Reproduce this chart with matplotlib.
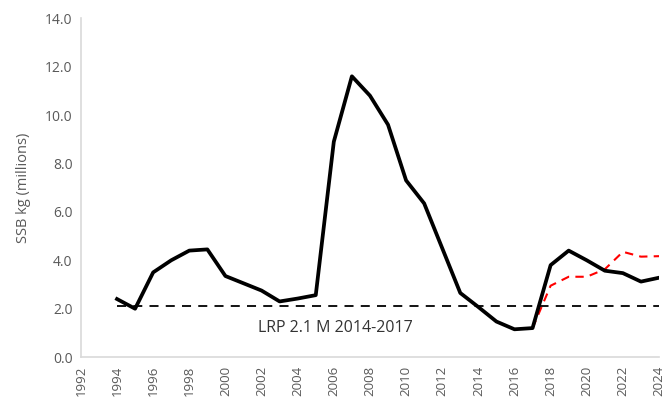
import matplotlib
matplotlib.use("Agg")
import matplotlib.pyplot as plt

# SSB estimates (millions of kg)
years = list(range(1994, 2025))
ssb = [2.4, 2.0, 3.5, 4.0, 4.4, 4.45, 3.35, 3.05, 2.75, 2.3, 2.42, 2.56,
       8.9, 11.6, 10.8, 9.6, 7.3, 6.35, 4.5, 2.65, 2.07, 1.47, 1.15, 1.2,
       3.8, 4.4, 4.0, 3.57, 3.47, 3.12, 3.28]

# alternative run from 2017 on
alt_years = list(range(2017, 2025))
alt_ssb = [1.2, 2.95, 3.32, 3.32, 3.63, 4.35, 4.15, 4.17]

lrp = 2.1
lrp_label = "LRP 2.1 M 2014-2017"
xticks = list(range(1992, 2025, 2))
yticks = [0, 2, 4, 6, 8, 10, 12, 14]

plt.rcParams['font.family'] = ['Open Sans', 'DejaVu Sans']

fig = plt.figure(figsize=(6.63, 4.04), dpi=100)
ax = fig.add_axes([0.122, 0.116, 0.872, 0.839])

ax.plot([years[0], years[-1]], [lrp, lrp], color='black', lw=1.3,
        dashes=(5, 4))
ax.plot(alt_years, alt_ssb, color='red', lw=1.5, dashes=(4, 3))
ax.plot(years, ssb, color='black', lw=2.7, solid_joinstyle='round')

ax.text(2006.1, 1.22, lrp_label, ha='center', va='center', fontsize=11.5,
        color='#333333')

ax.set_xlim(1992, 2024)
ax.set_ylim(0, 14)
ax.set_xticks(xticks)
ax.set_xticklabels([str(x) for x in xticks], rotation=90, color='#595959',
                   fontsize=9.5)
ax.set_yticks(yticks)
ax.set_yticklabels(["%.1f" % y for y in yticks], color='#595959',
                   fontsize=10)
ax.tick_params(length=0, pad=6)
ax.set_ylabel("SSB kg (millions)", color='#595959', fontsize=10.5,
              labelpad=10)

for s in ['top', 'right']:
    ax.spines[s].set_visible(False)
for s in ['left', 'bottom']:
    ax.spines[s].set_color('#d9d9d9')
    ax.spines[s].set_linewidth(1.2)

fig.savefig("out.png", dpi=100)
